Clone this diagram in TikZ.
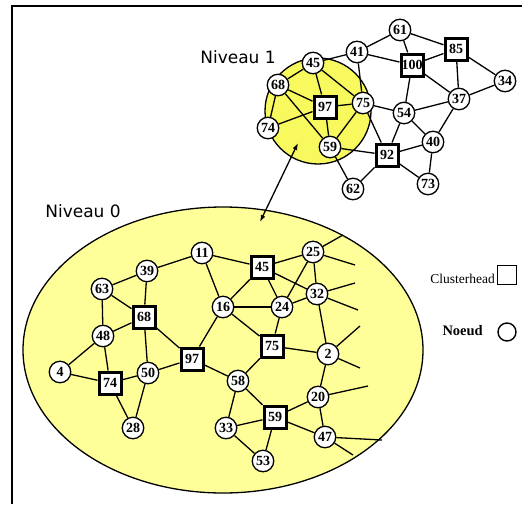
\documentclass[tikz,border=0pt]{standalone}
\usepackage{fontspec}
\setmainfont{Liberation Serif}
\newfontfamily\dvs{DejaVu Sans}
\usetikzlibrary{arrows.meta}
\definecolor{paleyel}{RGB}{255,255,153}
\definecolor{brightyel}{RGB}{248,248,95}
\tikzset{
  cnode/.style={circle, draw, fill=white, line width=1.3pt, minimum size=21.5pt, inner sep=0pt,
    font=\bfseries\fontsize{14}{14}\selectfont},
  hnode/.style={rectangle, draw, fill=white, line width=3pt, minimum size=22pt, inner sep=0pt,
    font=\bfseries\fontsize{14}{14}\selectfont},
  edge/.style={line width=1.3pt},
  lvl/.style={font=\dvs\fontsize{17}{17}\selectfont, inner sep=0pt},
}
\begin{document}
\begin{tikzpicture}[x=1pt,y=-1pt]
\useasboundingbox (0,0) rectangle (522,504);
\fill[white] (0,0) rectangle (522,504);
% frame
\draw[line width=2pt] (12,504) -- (12,6) -- (522,6);
% backgrounds
\draw[fill=paleyel, line width=1.3pt] (223,350) ellipse [x radius=200, y radius=143];
\draw[fill=brightyel, line width=1.3pt] (318,111) circle [radius=53];
% labels
\node[lvl] (n1) at (238,57) {Niveau 1};
\node[lvl] (n0) at (83,211) {Niveau 0};
% ---------------- level 1 graph
\node[cnode] (t61) at (400,30) {61};
\node[cnode] (t41) at (357,52) {41};
\node[hnode] (t85) at (456,49) {85};
\node[hnode] (t100) at (412,65) {100};
\node[cnode] (t34) at (505,81) {34};
\node[cnode] (t45) at (313,63) {45};
\node[cnode] (t68) at (278,85) {68};
\node[hnode] (t97) at (325,107) {97};
\node[cnode] (t75) at (363,103) {75};
\node[cnode] (t54) at (404,113) {54};
\node[cnode] (t37) at (459,99) {37};
\node[cnode] (t74) at (268,128) {74};
\node[cnode] (t59) at (330,147) {59};
\node[cnode] (t40) at (433,142) {40};
\node[hnode] (t92) at (387,155) {92};
\node[cnode] (t62) at (353,189) {62};
\node[cnode] (t73) at (428,184) {73};
\foreach \a/\b in {t45/t41,t41/t61,t41/t100,t41/t75,t61/t100,t61/t85,t85/t100,t85/t37,t85/t34,
  t100/t37,t100/t54,t34/t37,t37/t54,t37/t40,t54/t75,t54/t92,t54/t40,t40/t92,t40/t73,t92/t73,
  t92/t62,t92/t59,t75/t92,t59/t62,t45/t68,t45/t97,t45/t75,t68/t97,t68/t74,t68/t59,t97/t75,
  t97/t59,t97/t74,t75/t59}
  \draw[edge] (\a) -- (\b);
% ---------------- level 0 graph
\node[cnode] (b11) at (202,253) {11};
\node[cnode] (b39) at (147,271) {39};
\node[cnode] (b63) at (102,289) {63};
\node[hnode] (b68) at (144,317) {68};
\node[cnode] (b16) at (223,307) {16};
\node[cnode] (b48) at (103,336) {48};
\node[hnode] (b97) at (192,359) {97};
\node[cnode] (b4) at (60,372) {4};
\node[hnode] (b74) at (110,383) {74};
\node[cnode] (b50) at (148,373) {50};
\node[cnode] (b58) at (238,381) {58};
\node[cnode] (b28) at (133,428) {28};
\node[cnode] (b33) at (226,428) {33};
\node[hnode] (b45) at (262,267) {45};
\node[cnode] (b25) at (313,252) {25};
\node[cnode] (b32) at (317,294) {32};
\node[cnode] (b24) at (282,307) {24};
\node[hnode] (b75) at (272,346) {75};
\node[cnode] (b2) at (328,354) {2};
\node[cnode] (b20) at (318,397) {20};
\node[hnode] (b59) at (275,417) {59};
\node[cnode] (b47) at (325,437) {47};
\node[cnode] (b53) at (263,461) {53};
\foreach \a/\b in {b39/b11,b39/b63,b39/b68,b63/b68,b63/b48,b48/b68,b48/b4,b48/b74,b4/b74,
  b74/b50,b74/b28,b50/b28,b50/b68,b50/b97,b68/b97,b97/b16,b97/b58,b11/b16,b11/b45,b16/b45,
  b16/b24,b16/b75,b45/b25,b45/b24,b45/b32,b25/b24,b25/b32,b24/b32,b24/b75,b32/b2,b75/b2,
  b75/b58,b58/b33,b58/b59,b2/b20,b20/b59,b20/b47,b59/b47,b59/b33,b59/b53,b33/b53}
  \draw[edge] (\a) -- (\b);
% dangling links
\coordinate (d1) at (343,235);
\coordinate (d2) at (355,265);
\coordinate (d3) at (355,283);
\coordinate (d4) at (358,310);
\coordinate (d5) at (360,326);
\coordinate (d6) at (360,368);
\coordinate (d7) at (368,386);
\coordinate (d8) at (382,440);
\coordinate (d9) at (353,455);
\draw[edge] (b25) -- (d1);
\draw[edge] (b25) -- (d2);
\draw[edge] (b32) -- (d3);
\draw[edge] (b32) -- (d4);
\draw[edge] (b2) -- (d5);
\draw[edge] (b2) -- (d6);
\draw[edge] (b20) -- (d7);
\draw[edge] (b47) -- (d8);
\draw[edge] (b47) -- (d9);
% arrow between levels
\coordinate (a1) at (298,143);
\coordinate (a2) at (260,222);
\draw[line width=1.3pt, {Latex[length=7pt,width=5pt]}-{Latex[length=7pt,width=5pt]}] (a1) -- (a2);
% legend
\node[rectangle, draw, line width=1.6pt, minimum size=19pt, inner sep=0pt] (lsq) at (507,275) {};
\node[anchor=east, inner sep=0pt, font=\fontsize{13.5}{13.5}\selectfont] (lch) at (495,279) {Clusterhead};
\node[circle, draw, line width=1.4pt, minimum size=18pt, inner sep=0pt] (lci) at (507,332) {};
\node[anchor=east, inner sep=0pt, font=\bfseries\fontsize{14.5}{14.5}\selectfont] (lno) at (483,331) {Noeud};
\end{tikzpicture}
\end{document}
